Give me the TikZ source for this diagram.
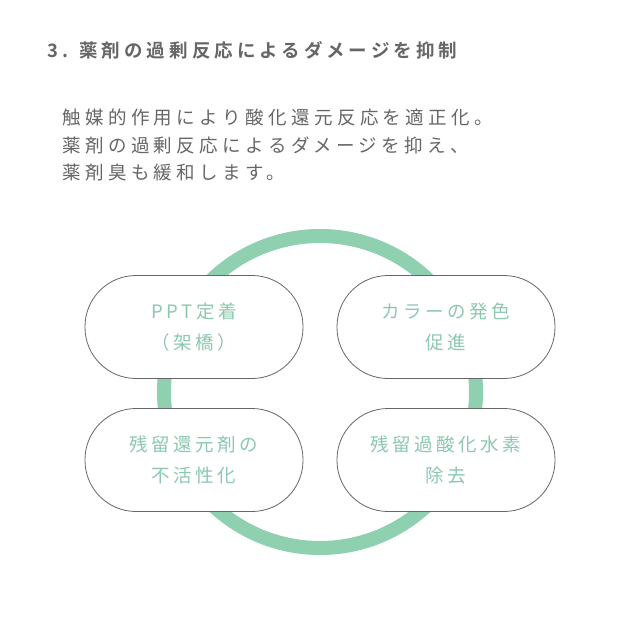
\documentclass[tikz,border=0pt]{standalone}
\usepackage{fontspec}
\setmainfont{Noto Sans CJK JP}
\newfontfamily\wideA[LetterSpace=24]{Noto Sans CJK JP}
\newfontfamily\wideB[LetterSpace=19]{Noto Sans CJK JP}
\newfontfamily\wideT[LetterSpace=22]{Noto Sans CJK JP Bold}
\definecolor{mint}{HTML}{8FD0B0}
\definecolor{mtxt}{HTML}{8CC9AE}
\definecolor{gtxt}{HTML}{666666}
\begin{document}
\begin{tikzpicture}[x=1pt,y=-1pt,
 pill/.style={draw=gray!80!black,line width=0.8pt,fill=white,rounded corners=51pt,minimum width=218pt,minimum height=103pt,text=mtxt,font=\wideB\fontsize{18.5}{31}\selectfont,align=center},
 para/.style={anchor=west,text=gtxt,font=\wideA\fontsize{18.5}{20}\selectfont,inner sep=0}]
\useasboundingbox (0,0) rectangle (640,640);
\node[anchor=west,text=gtxt,font=\wideT\fontsize{18.5}{20}\selectfont,inner sep=0] (title) at (47,50) {3. 薬剤の過剰反応によるダメージを抑制};
\node[para] (p1) at (62,117) {触媒的作用により酸化還元反応を適正化。};
\node[para] (p2) at (62,145) {薬剤の過剰反応によるダメージを抑え、};
\node[para] (p3) at (62,173) {薬剤臭も緩和します。};
\draw[mint,line width=14pt] (320,392) circle (156);
\node[pill] (a) at (194,327) {PPT定着\\（架橋）};
\node[pill] (b) at (446,327) {カラーの発色\\促進};
\node[pill] (c) at (194,460) {残留還元剤の\\不活性化};
\node[pill] (d) at (446,460) {残留過酸化水素\\除去};
\end{tikzpicture}
\end{document}
